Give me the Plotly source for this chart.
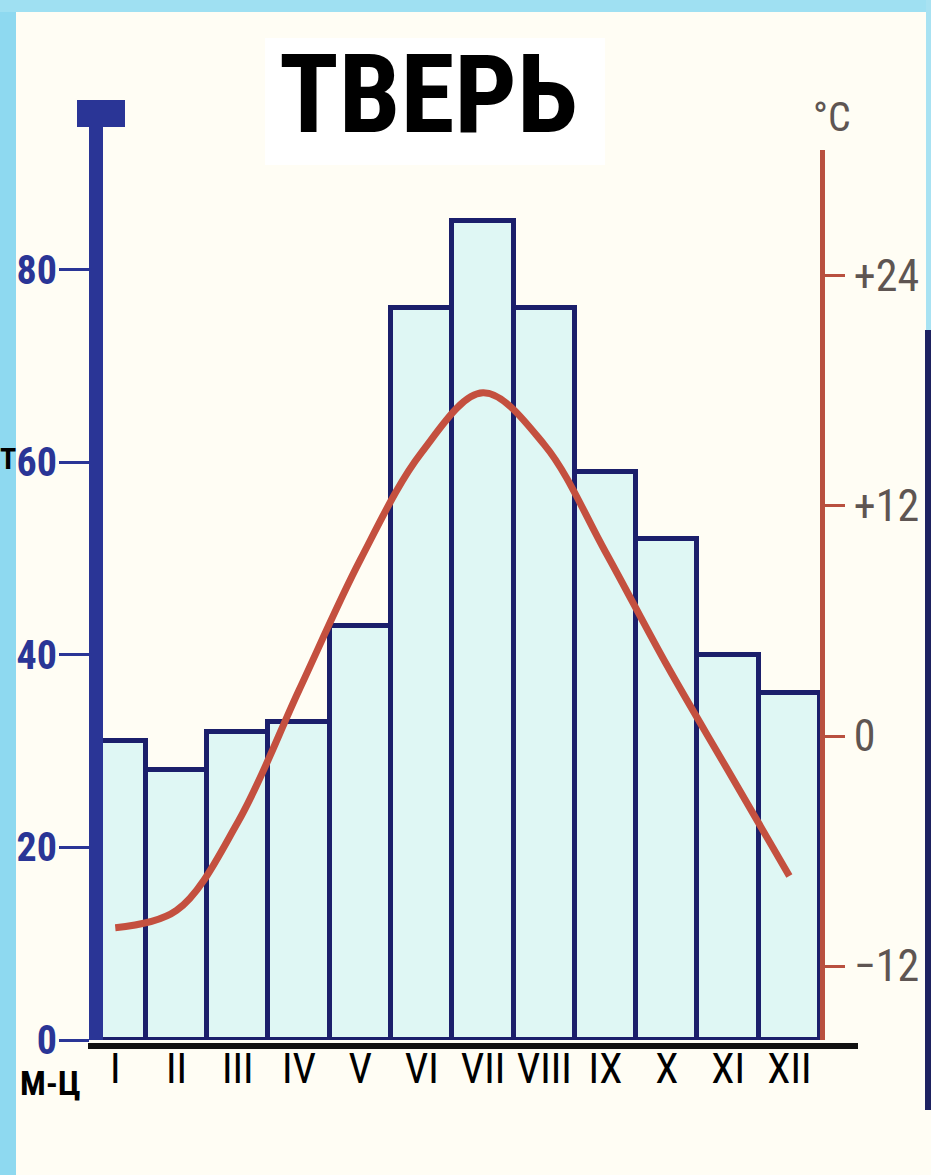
import plotly.graph_objects as go

# ---- data ----
months = ["I", "II", "III", "IV", "V", "VI", "VII", "VIII", "IX", "X", "XI", "XII"]
precip_mm = [31, 28, 32, 33, 43, 76, 85, 76, 59, 52, 40, 36]
temp_c = [-10.0, -9.1, -4.5, 2.4, 9.2, 14.8, 17.9, 15.2, 9.6, 3.7, -1.8, -7.3]
precip_ticks = [0, 20, 40, 60, 80]
temp_ticks = [-12, 0, 12, 24]
temp_tick_text = ["\u221212", "0", "+12", "+24"]

W, H = 931, 1175
L, R, T, B = 103, 111, 100, 135
PW, PH = W - L - R, H - T - B

NARROW = "Roboto Condensed, Liberation Sans Narrow, DejaVu Sans Condensed, sans-serif"
NAVY = "#2A3596"
OUTLINE = "#1B1F6B"
RED = "#B9503F"
CREAM = "#FFFDF4"


def px(x):
    return (x - L) / PW


def py(y):
    return (H - B - y) / PH


xi = list(range(len(months)))

fig = go.Figure()
fig.add_trace(go.Bar(
    x=xi, y=precip_mm, width=1.0,
    marker=dict(color="#DFF7F4", line=dict(color=OUTLINE, width=5)),
    xaxis="x", yaxis="y", hoverinfo="skip", showlegend=False,
))
fig.add_trace(go.Scatter(
    x=xi, y=temp_c, mode="lines",
    line=dict(color="#C4503F", width=7, shape="spline", smoothing=1.0),
    xaxis="x", yaxis="y2", hoverinfo="skip", showlegend=False,
))

y2_top_px = 150
y2_dom = (H - B - y2_top_px) / PH
t0_px = 736
deg_px = 19.17
y2_range = [-(H - B - t0_px) / deg_px, (t0_px - y2_top_px) / deg_px]
mm_px = 9.63
y1_range = [0, PH / mm_px]

shapes = []
# decorative slide border (cyan strips, navy edge)
shapes.append(dict(type="rect", xref="paper", yref="paper", x0=px(-2), x1=px(16), y0=py(H + 2), y1=py(-2),
                   fillcolor="#8ED9F0", line=dict(width=0), layer="below"))
shapes.append(dict(type="rect", xref="paper", yref="paper", x0=px(-2), x1=px(W + 2), y0=py(12), y1=py(-2),
                   fillcolor="#9FE0F2", line=dict(width=0), layer="below"))
shapes.append(dict(type="rect", xref="paper", yref="paper", x0=px(925), x1=px(W + 2), y0=py(1110), y1=py(330),
                   fillcolor="#1E2260", line=dict(width=0), layer="below"))
shapes.append(dict(type="rect", xref="paper", yref="paper", x0=px(926), x1=px(W + 2), y0=py(330), y1=py(-2),
                   fillcolor="#A8E2F2", line=dict(width=0), layer="below"))
# white panel behind title
shapes.append(dict(type="rect", xref="paper", yref="paper", x0=px(265), x1=px(605), y0=py(165), y1=py(38),
                   fillcolor="#FFFFFF", line=dict(width=0), layer="below"))
# cap on top of left axis
shapes.append(dict(type="rect", xref="paper", yref="paper", x0=px(77), x1=px(125), y0=py(127), y1=py(100),
                   fillcolor=NAVY, line=dict(width=0)))
# baseline
shapes.append(dict(type="line", xref="paper", yref="paper", x0=px(88), x1=px(858), y0=py(1046), y1=py(1046),
                   line=dict(color="#111111", width=6)))

annotations = [
    dict(text="<b>ТВЕРЬ</b>", xref="paper", yref="paper", x=px(428), y=py(94), showarrow=False,
         font=dict(family=NARROW, size=110, color="#000000"), xanchor="center", yanchor="middle"),
    dict(text="°C", xref="paper", yref="paper", x=px(832), y=py(118), showarrow=False,
         font=dict(family=NARROW, size=40, color="#5E5552"), xanchor="center", yanchor="middle"),
    dict(text="<b>М-Ц</b>", xref="paper", yref="paper", x=px(18), y=py(1083), showarrow=False,
         font=dict(family=NARROW, size=34, color="#000000"), xanchor="left", yanchor="middle"),
    dict(text="<b>Т</b>", xref="paper", yref="paper", x=px(-1), y=py(458), showarrow=False,
         font=dict(family=NARROW, size=30, color="#000000"), xanchor="left", yanchor="middle",
         borderpad=0),
]

fig.update_layout(
    width=W, height=H,
    margin=dict(l=L, r=R, t=T, b=B, autoexpand=False),
    paper_bgcolor=CREAM, plot_bgcolor="rgba(0,0,0,0)",
    bargap=0, showlegend=False,
    xaxis=dict(range=[-0.2, 11.5], tickvals=xi, ticktext=months, ticks="", showline=False,
               showgrid=False, zeroline=False, anchor="y", automargin=False,
               tickfont=dict(family=NARROW, size=42, color="#000000")),
    yaxis=dict(range=y1_range, tickvals=precip_ticks, showline=True, linecolor=NAVY, linewidth=14,
               ticks="outside", ticklen=30, tickwidth=3, tickcolor=NAVY, showgrid=False, zeroline=False,
               automargin=False, ticklabelstandoff=-6,
               tickfont=dict(family=NARROW, size=40, color=NAVY, weight="bold"), anchor="x"),
    yaxis2=dict(range=y2_range, domain=[0, y2_dom], side="right", anchor="x", automargin=False,
                tickvals=temp_ticks, ticktext=temp_tick_text, showline=True, linecolor=RED, linewidth=5,
                ticks="outside", ticklen=20, tickwidth=3, tickcolor=RED, showgrid=False, zeroline=False,
                tickfont=dict(family=NARROW, size=44, color="#5E5552")),
    shapes=shapes,
    annotations=annotations,
)

fig.write_html("out.html", config={"displayModeBar": False},
               post_script="document.body.style.margin='0px';")
